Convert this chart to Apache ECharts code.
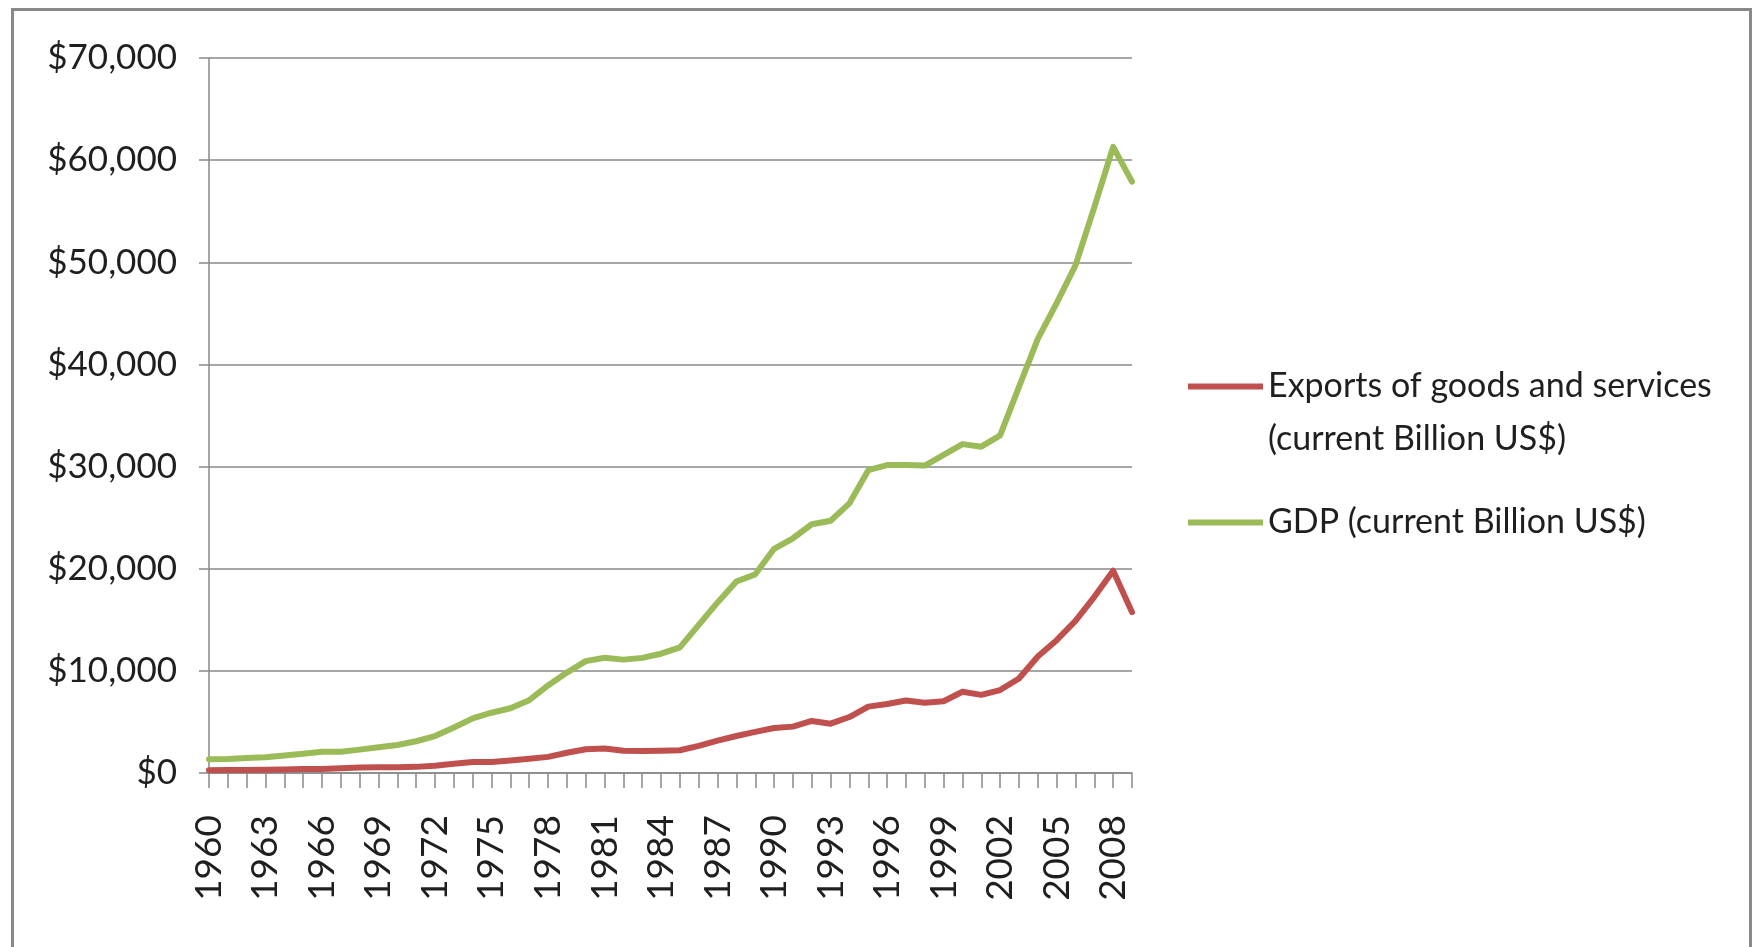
<!DOCTYPE html>
<html>
<head>
<meta charset="utf-8">
<script src="https://cdn.jsdelivr.net/npm/echarts@6/dist/echarts.min.js"></script>
<style>
html,body{margin:0;padding:0;background:#fff;}
#chart{width:1758px;height:947px;}
</style>
</head>
<body>
<div id="chart"></div>
<script>
const years = ['1960','1961','1962','1963','1964','1965','1966','1967','1968','1969',
  '1970','1971','1972','1973','1974','1975','1976','1977','1978','1979',
  '1980','1981','1982','1983','1984','1985','1986','1987','1988','1989',
  '1990','1991','1992','1993','1994','1995','1996','1997','1998','1999',
  '2000','2001','2002','2003','2004','2005','2006','2007','2008','2009'];

const exportsValues = [280,290,300,320,350,380,400,470,540,560,
  560,600,720,900,1080,1080,1230,1400,1580,1980,
  2330,2400,2180,2150,2190,2230,2660,3170,3620,4030,
  4400,4540,5100,4830,5480,6500,6760,7100,6880,7030,
  7950,7650,8120,9250,11400,13000,14900,17250,19800,15750];

const gdpValues = [1350,1370,1470,1550,1710,1880,2070,2090,2290,2530,
  2740,3110,3620,4460,5350,5900,6340,7130,8570,9830,
  10950,11280,11100,11270,11680,12300,14500,16700,18750,19450,
  21950,22980,24350,24700,26400,29650,30150,30150,30100,31150,
  32200,31950,33050,37800,42500,46000,49700,55400,61300,57900];

const yTicks = {min: 0, max: 70000, interval: 10000};
const exportsName = 'Exports of goods and services (current Billion US$)';
const gdpName = 'GDP (current Billion US$)';

const FONT = 'Lato, "Open Sans", sans-serif';
const GRAY = '#898989';

const chart = echarts.init(document.getElementById('chart'), null, {renderer: 'canvas'});
chart.setOption({
  backgroundColor: '#ffffff',
  animation: false,
  color: ['#C0504D', '#9BBB59'],
  graphic: [{
    type: 'rect',
    silent: true,
    z: -10,
    shape: {x: 12.5, y: 9.5, width: 1738, height: 1000},
    style: {fill: 'none', stroke: GRAY, lineWidth: 3}
  }],
  grid: {left: 209, right: 626, top: 58, bottom: 174, containLabel: false},
  legend: {
    orient: 'vertical',
    left: 1188,
    top: 360,
    padding: 0,
    itemGap: 27,
    itemWidth: 75,
    itemHeight: 59,
    textStyle: {fontFamily: FONT, fontSize: 34, color: '#1f1f1f', lineHeight: 53},
    formatter: function (name) {
      return name === exportsName ? 'Exports of goods and services\n(current Billion US$)' : name;
    },
    data: [
      {name: exportsName, icon: 'path://M0,0L75,0L75,6L0,6Z M0,59L0.01,59L0,59Z',
       itemStyle: {color: '#C0504D', borderWidth: 0}},
      {name: gdpName, icon: 'path://M0,0L0.01,0L0,0Z M0,26.5L75,26.5L75,32.5L0,32.5Z M0,59L0.01,59L0,59Z',
       itemStyle: {color: '#9BBB59', borderWidth: 0}}
    ]
  },
  xAxis: {
    type: 'category',
    boundaryGap: false,
    data: years,
    axisLine: {show: true, lineStyle: {color: GRAY, width: 1.5}},
    axisTick: {show: true, interval: 0, length: 15, lineStyle: {color: GRAY, width: 1.5}},
    axisLabel: {interval: 2, rotate: 90, margin: 42, fontFamily: FONT, fontSize: 37, color: '#1f1f1f'},
    splitLine: {show: false}
  },
  yAxis: {
    type: 'value',
    min: yTicks.min,
    max: yTicks.max,
    interval: yTicks.interval,
    axisLine: {show: true, lineStyle: {color: GRAY, width: 1.5}},
    axisTick: {show: true, length: 10, lineStyle: {color: GRAY, width: 1.5}},
    axisLabel: {
      margin: 32, fontFamily: FONT, fontSize: 35, color: '#1f1f1f',
      formatter: function (v) { return '$' + v.toLocaleString('en-US'); }
    },
    splitLine: {show: true, lineStyle: {color: GRAY, width: 1.5}}
  },
  series: [
    {
      name: exportsName, type: 'line', data: exportsValues, showSymbol: false, symbol: 'none',
      lineStyle: {width: 6, color: '#C0504D', cap: 'round', join: 'round'},
      itemStyle: {color: '#C0504D'}
    },
    {
      name: gdpName, type: 'line', data: gdpValues, showSymbol: false, symbol: 'none',
      lineStyle: {width: 6, color: '#9BBB59', cap: 'round', join: 'round'},
      itemStyle: {color: '#9BBB59'}
    }
  ]
});
</script>
</body>
</html>
